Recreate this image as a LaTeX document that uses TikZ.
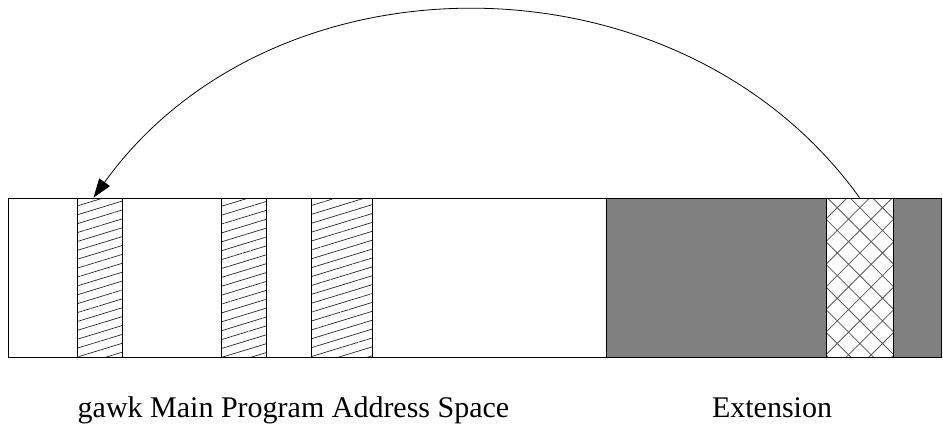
\documentclass[tikz,border=0pt]{standalone}
\usepackage{fontspec}
\setmainfont{Liberation Serif}
\usetikzlibrary{patterns.meta,arrows.meta}

\begin{document}
\begin{tikzpicture}[x=1pt, y=-1pt,
		block/.style={rectangle, draw=black, line width=0.8pt, minimum height=159pt, inner sep=0pt},
		hatchblock/.style={block, pattern={Lines[angle=17,distance=8.5pt,line width=0.7pt]}, pattern color=black!85},
		crossblock/.style={block, preaction={fill=white}, pattern={Hatch[angle=45,distance=16pt,line width=0.8pt]}, pattern color=black!65},
		caption/.style={anchor=base, font=\fontsize{30}{36}\selectfont}]

		\useasboundingbox (0,0) rectangle (943,434);

		% address space of gawk, then the extension
		\node[block, minimum width=933pt](mainSpace) at (474.5,277.5){};
		\node[block, fill=gray, minimum width=335pt](extSpace) at (773.5,277.5){};

		\node[hatchblock, minimum width=45pt](hatchOne) at (99.5,277.5){};
		\node[hatchblock, minimum width=45pt](hatchTwo) at (243.5,277.5){};
		\node[hatchblock, minimum width=61pt](hatchThree) at (341.5,277.5){};
		\node[crossblock, minimum width=67pt](crossOne) at (859.5,277.5){};

		\coordinate (target) at ([xshift=-6pt]hatchOne.north);
		\draw [-{Triangle[length=19pt,width=13pt]}, line width=0.8pt] (crossOne.north) .. controls +(-180,-250) and +(180,-250) .. (target);

		\node[caption](mainLabel) at (293.5,417){gawk Main Program Address Space};
		\node[caption](extLabel) at (772,417){Extension};

	\end{tikzpicture}
\end{document}
